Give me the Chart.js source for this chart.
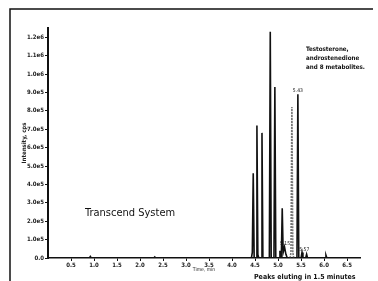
<!DOCTYPE html>
<html>
<head>
<meta charset="utf-8">
<script src="https://cdn.jsdelivr.net/npm/chart.js@4.4.1/dist/chart.umd.min.js"></script>
<style>
  html, body { margin: 0; padding: 0; background: #fff; }
  #wrap { width: 378px; height: 281px; position: relative; }
</style>
</head>
<body>
<div id="wrap"><canvas id="myChart"></canvas></div>
<script>
// chromatogram trace (time in min, intensity in cps)
const traceTime = [0.0, 0.9, 0.92, 0.94, 2.3, 2.32, 2.34, 4.38, 4.42, 4.44, 4.46, 4.48, 4.52, 4.54, 4.56, 4.58,
  4.63, 4.65, 4.67, 4.81, 4.83, 4.85, 4.91, 4.93, 4.95, 5.02, 5.04, 5.07, 5.09, 5.11, 5.14, 5.17, 5.20,
  5.41, 5.43, 5.45, 5.50, 5.52, 5.54, 5.60, 5.62, 5.64, 6.02, 6.04, 6.06, 6.78];
const traceIntensity = [0, 0, 8000, 0, 0, 6000, 0, 0, 0, 30000, 460000, 0, 0, 720000, 20000, 0,
  0, 680000, 0, 0, 1230000, 0, 0, 930000, 0, 0, 40000, 0, 270000, 30000, 60000, 20000, 0,
  0, 890000, 0, 0, 30000, 0, 0, 20000, 0, 0, 15000, 0, 0];
// the lighter (dotted) peak
const greyTime = [5.26, 5.28, 5.30, 5.32, 5.34];
const greyIntensity = [0, 30000, 820000, 30000, 0];

const peakLabelTime = 5.43;
const peakLabelValue = 890000;
const peakLabelText = '5.43';

const xTickStep = 0.5;
const yTickStep = 100000;

const fontFace = "'Liberation Sans Narrow', 'DejaVu Sans Condensed', 'Liberation Sans', sans-serif";

function toPoints(xs, ys) {
  return xs.map((x, i) => ({x: x, y: ys[i]}));
}

//frame, notes and the little peak label are drawn on top of the chart
const extras = {
  id: 'extras',
  afterDraw(chart) {
    const c = chart.ctx;
    const xs = chart.scales.x, ys = chart.scales.y;
    c.save();
    c.strokeStyle = '#111';
    c.lineWidth = 1.5;
    c.beginPath();
    c.moveTo(10, 281);
    c.lineTo(10, 9);
    c.lineTo(373, 9);
    c.stroke();

    c.fillStyle = '#111';
    c.font = '11px ' + fontFace;
    c.textBaseline = 'middle';
    c.fillText('Transcend System', 85, 213);

    c.font = 'bold 6.2px ' + fontFace;
    c.fillText('Testosterone,', 306, 49);
    c.fillText('androstenedione', 306, 58);
    c.fillText('and 8 metabolites.', 306, 67);

    c.font = 'bold 7px ' + fontFace;
    c.fillText('Peaks eluting in 1.5 minutes', 254, 277);

    c.font = '5px ' + fontFace;
    c.textAlign = 'center';
    c.fillText(peakLabelText, xs.getPixelForValue(peakLabelTime), ys.getPixelForValue(peakLabelValue) - 4);
    c.fillText('5.15', xs.getPixelForValue(5.15), ys.getPixelForValue(60000) - 3);
    c.fillText('5.57', xs.getPixelForValue(5.57), ys.getPixelForValue(30000) - 3);
    c.restore();
  }
};

const ctx = document.getElementById('myChart');
const chart1 = new Chart(ctx, {
  type: 'line',
  data: {
    datasets: [{
      data: toPoints(traceTime, traceIntensity),
      borderColor: '#111',
      borderWidth: 1.6,
      pointRadius: 0,
      tension: 0
    }, {
      data: toPoints(greyTime, greyIntensity),
      borderColor: '#777',
      borderWidth: 1.6,
      borderDash: [2, 1],
      pointRadius: 0,
      tension: 0
    }]
  },
  options: {
    responsive: true,
    maintainAspectRatio: false,
    animation: false,
    layout: { padding: { left: 0, top: 28, right: 18, bottom: 0 } },
    plugins: {
      legend: { display: false },
      tooltip: { enabled: false }
    },
    scales: {
      x: {
        type: 'linear',
        min: 0,
        max: 6.78,
        afterFit: (s) => { s.height = 23; },
        afterBuildTicks: (s) => {
          s.ticks = [];
          for (let v = xTickStep; v <= 6.5 + 1e-6; v += xTickStep) s.ticks.push({value: +v.toFixed(1)});
        },
        ticks: {
          font: { family: fontFace, size: 6, weight: 'bold' },
          color: '#222',
          padding: 1,
          maxRotation: 0,
          callback: (v) => v.toFixed(1)
        },
        grid: { drawOnChartArea: false, tickLength: 3, color: '#111' },
        border: { color: '#111', width: 1.5 },
        title: {
          display: true,
          text: 'Time, min',
          font: { family: fontFace, size: 5 },
          color: '#222',
          padding: { top: 0, bottom: 8 }
        }
      },
      y: {
        min: 0,
        max: 1250000,
        afterFit: (s) => { s.width = 48; },
        afterBuildTicks: (s) => {
          s.ticks = [];
          for (let v = 0; v <= 1200000; v += yTickStep) s.ticks.push({value: v});
        },
        ticks: {
          font: { family: fontFace, size: 6, weight: 'bold' },
          color: '#222',
          padding: 1,
          callback: (v) => v === 0 ? '0.0' : v.toExponential(1).replace('e+', 'e')
        },
        grid: { drawOnChartArea: false, tickLength: 3, color: '#111' },
        border: { color: '#111', width: 2 },
        title: {
          display: true,
          text: 'Intensity, cps',
          font: { family: fontFace, size: 6, weight: 'bold' },
          color: '#222',
          padding: { top: 21, bottom: 0 }
        }
      }
    }
  },
  plugins: [extras]
});
</script>
</body>
</html>
